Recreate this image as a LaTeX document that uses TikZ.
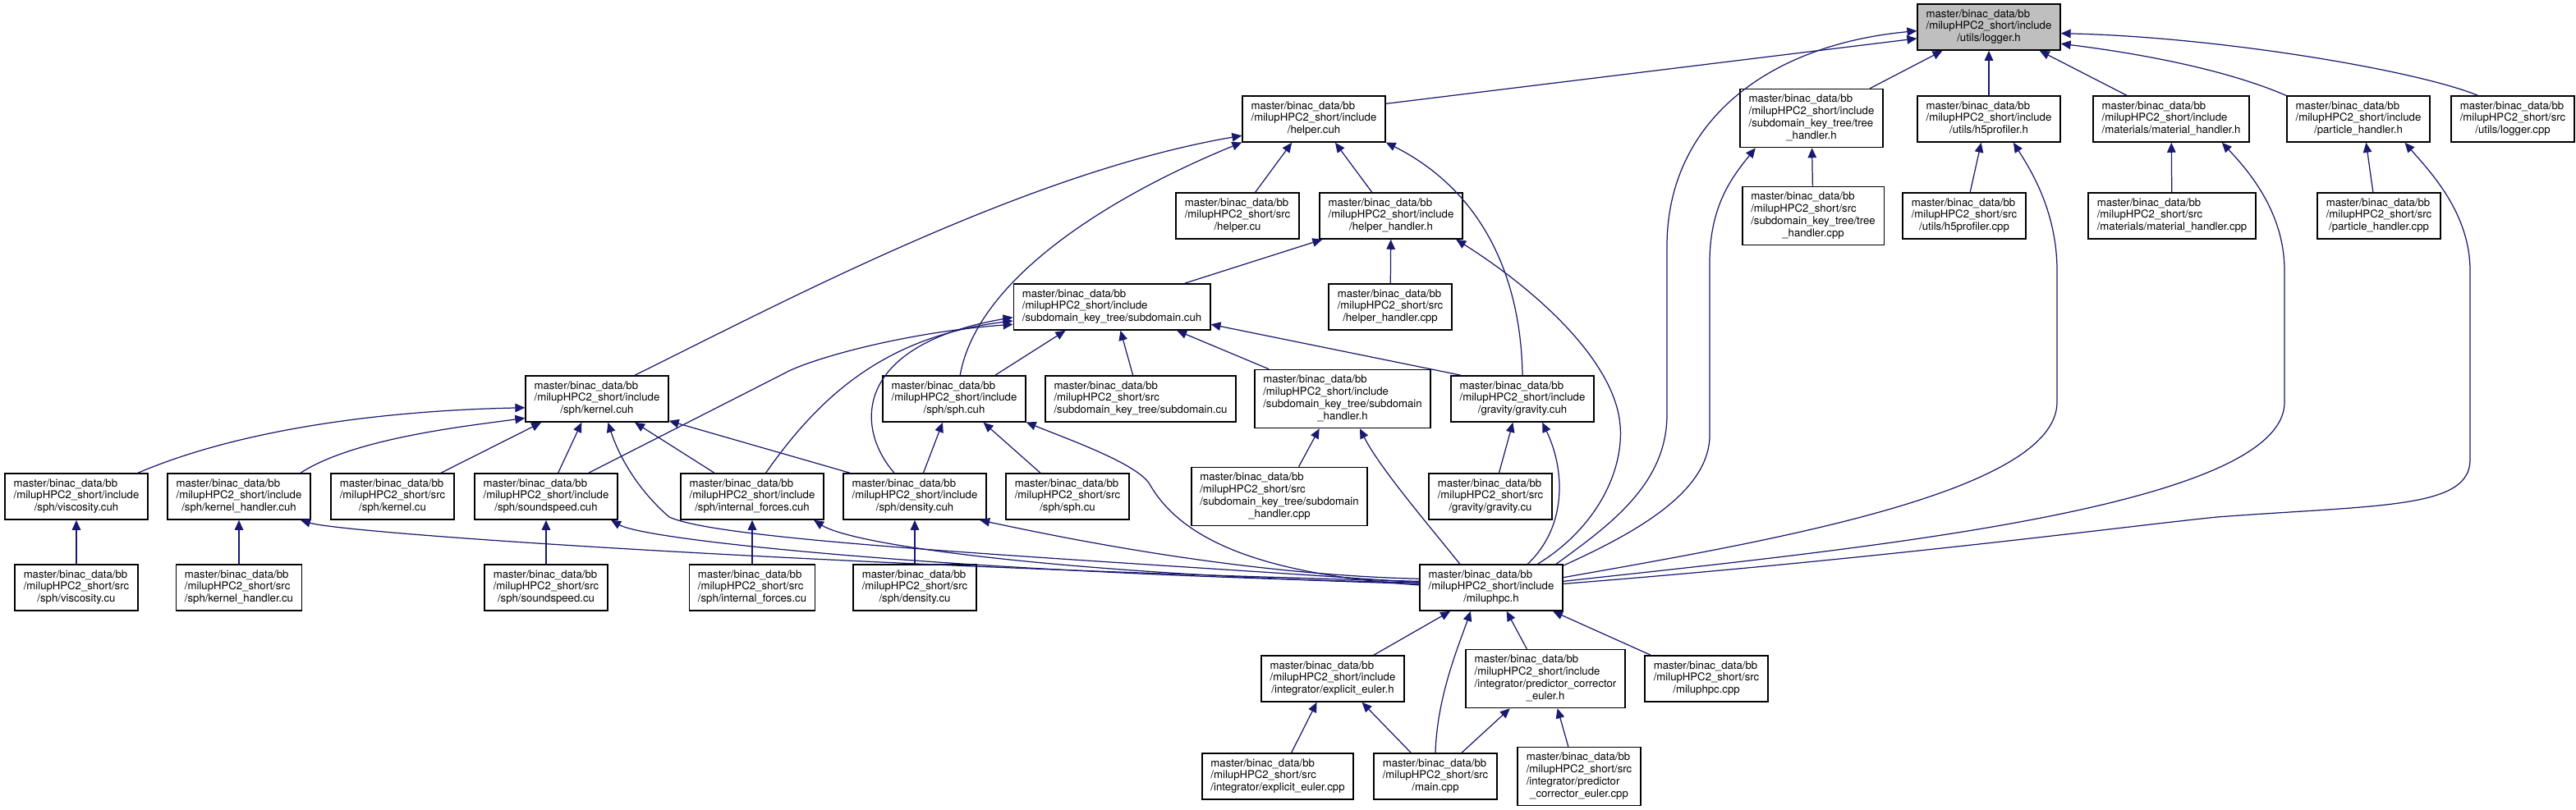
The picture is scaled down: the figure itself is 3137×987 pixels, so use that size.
\documentclass[tikz,border=0pt]{standalone}
\usepackage{fontspec}
\setmainfont{TeX Gyre Heros}
\usetikzlibrary{arrows.meta}

\definecolor{edgeblue}{HTML}{191970}
\newcommand{\incdir}{master/binac\_data/bb\\/milupHPC2\_short/include}
\newcommand{\srcdir}{master/binac\_data/bb\\/milupHPC2\_short/src}
\newcommand{\flabel}[2]{\begin{tabular}{@{}l@{}}#1\\\multicolumn{1}{@{}c@{}}{#2}\end{tabular}}

\begin{document}
\begin{tikzpicture}[
        x=0.02cm, y=-0.02cm,
        file/.style={
            draw=black,
            line width=0.9pt,
            fill=white,
            inner xsep=6pt,
            inner ysep=3.2pt,
            font=\fontsize{7.5}{8.5}\selectfont
        },
        current/.style={file, fill=black!25},
        dep/.style={
            -{Triangle[length=6.8pt,width=6pt]},
            draw=edgeblue,
            line width=0.7pt
        }
    ]
    \useasboundingbox (0,0) rectangle (3137,987);

    % Root header (top)
    \node[current] (logger) at (2422,33) {\flabel{\incdir}{/utils/logger.h}};

    % Second row
    \node[file] (helpercuh) at (1600,145) {\flabel{\incdir}{/helper.cuh}};
    \node[file] (treeh)     at (2206,144) {\flabel{\incdir\\/subdomain\_key\_tree/tree}{\_handler.h}};
    \node[file] (h5h)       at (2422,145) {\flabel{\incdir}{/utils/h5profiler.h}};
    \node[file] (math)      at (2644,145) {\flabel{\incdir}{/materials/material\_handler.h}};
    \node[file] (parth)     at (2872,145) {\flabel{\incdir}{/particle\_handler.h}};
    \node[file] (logcpp)    at (3060,145) {\flabel{\srcdir}{/utils/logger.cpp}};

    % Third row
    \node[file] (helpercu)  at (1507,263) {\flabel{\srcdir}{/helper.cu}};
    \node[file] (hhh)       at (1694,263) {\flabel{\incdir}{/helper\_handler.h}};
    \node[file] (treecpp)   at (2208,263) {\flabel{\srcdir\\/subdomain\_key\_tree/tree}{\_handler.cpp}};
    \node[file] (h5cpp)     at (2392,263) {\flabel{\srcdir}{/utils/h5profiler.cpp}};
    \node[file] (matcpp)    at (2645,263) {\flabel{\srcdir}{/materials/material\_handler.cpp}};
    \node[file] (partcpp)   at (2897,263) {\flabel{\srcdir}{/particle\_handler.cpp}};

    % Fourth row
    \node[file] (subcuh)    at (1354,374) {\flabel{\incdir}{/subdomain\_key\_tree/subdomain.cuh}};
    \node[file] (hhcpp)     at (1693,374) {\flabel{\srcdir}{/helper\_handler.cpp}};

    % Fifth row
    \node[file] (kercuh)    at (727,486)  {\flabel{\incdir}{/sph/kernel.cuh}};
    \node[file] (sphcuh)    at (1162,486) {\flabel{\incdir}{/sph/sph.cuh}};
    \node[file] (subcu)     at (1389,486) {\flabel{\srcdir}{/subdomain\_key\_tree/subdomain.cu}};
    \node[file] (subhh)     at (1635,486) {\flabel{\incdir\\/subdomain\_key\_tree/subdomain}{\_handler.h}};
    \node[file] (gravcuh)   at (1854,486) {\flabel{\incdir}{/gravity/gravity.cuh}};

    % Sixth row
    \node[file] (visccuh)   at (93,605)   {\flabel{\incdir}{/sph/viscosity.cuh}};
    \node[file] (khcuh)     at (291,605)  {\flabel{\incdir}{/sph/kernel\_handler.cuh}};
    \node[file] (kercu)     at (478,605)  {\flabel{\srcdir}{/sph/kernel.cu}};
    \node[file] (sscuh)     at (665,605)  {\flabel{\incdir}{/sph/soundspeed.cuh}};
    \node[file] (ifcuh)     at (916,605)  {\flabel{\incdir}{/sph/internal\_forces.cuh}};
    \node[file] (dencuh)    at (1114,605) {\flabel{\incdir}{/sph/density.cuh}};
    \node[file] (sphcu)     at (1300,605) {\flabel{\srcdir}{/sph/sph.cu}};
    \node[file] (subhcpp)   at (1558,605) {\flabel{\srcdir\\/subdomain\_key\_tree/subdomain}{\_handler.cpp}};
    \node[file] (gravcu)    at (1815,605) {\flabel{\srcdir}{/gravity/gravity.cu}};

    % Seventh row
    \node[file] (visccu)    at (93,716)   {\flabel{\srcdir}{/sph/viscosity.cu}};
    \node[file] (khcu)      at (291,716)  {\flabel{\srcdir}{/sph/kernel\_handler.cu}};
    \node[file] (sscu)      at (665,716)  {\flabel{\srcdir}{/sph/soundspeed.cu}};
    \node[file] (ifcu)      at (916,716)  {\flabel{\srcdir}{/sph/internal\_forces.cu}};
    \node[file] (dencu)     at (1114,716) {\flabel{\srcdir}{/sph/density.cu}};
    \node[file] (mil)       at (1816,716) {\flabel{\incdir}{/miluphpc.h}};

    % Integrators
    \node[file] (eeh)       at (1623,827) {\flabel{\incdir}{/integrator/explicit\_euler.h}};
    \node[file] (pceh)      at (1882,827) {\flabel{\incdir\\/integrator/predictor\_corrector}{\_euler.h}};
    \node[file] (milcpp)    at (2078,827) {\flabel{\srcdir}{/miluphpc.cpp}};
    \node[file] (eecpp)     at (1556,946) {\flabel{\srcdir}{/integrator/explicit\_euler.cpp}};
    \node[file] (maincpp)   at (1748,946) {\flabel{\srcdir}{/main.cpp}};
    \node[file] (pcecpp)    at (1923,946) {\flabel{\srcdir\\/integrator/predictor}{\_corrector\_euler.cpp}};

    % Includes of logger.h
    \draw[dep] (helpercuh.12) -- (logger.189);
    \draw[dep] (treeh.27) -- (logger.-153);
    \draw[dep] (h5h.north) -- (logger.south);
    \draw[dep] (math.152) -- (logger.-25);
    \draw[dep] (parth.162) .. controls (2700,80) and (2580,62) .. (logger.-13);
    \draw[dep] (logcpp.146) .. controls (2940,85) and (2700,45) .. (logger.-5);
    \draw[dep] (mil.20) .. controls (1960,640) and (2030,590) .. (2030,505) -- (2030,300) .. controls (2030,150) and (2150,55) .. (logger.183);

    % Includes of helper.cuh
    \draw[dep] (kercuh.32) .. controls (950,370) and (1250,210) .. (helpercuh.193);
    \draw[dep] (sphcuh.76) .. controls (1190,340) and (1350,240) .. (helpercuh.-162);
    \draw[dep] (helpercu.53) -- (helpercuh.-133);
    \draw[dep] (hhh.129) -- (helpercuh.-48);
    \draw[dep] (gravcuh.north) .. controls (1852,330) and (1800,230) .. (helpercuh.-18);

    % Includes of helper_handler.h
    \draw[dep] (subcuh.18) -- (hhh.-161);
    \draw[dep] (hhcpp) -- (hhh);
    \draw[dep] (mil.27) .. controls (1950,640) and (1985,560) .. (1970,500) .. controls (1950,420) and (1850,340) .. (hhh.-20);

    % Includes of the tree handler
    \draw[dep] (treecpp) -- (treeh);
    \draw[dep] (mil.17) .. controls (1990,650) and (2082,600) .. (2082,530) -- (2082,320) .. controls (2082,250) and (2110,215) .. (treeh.-152);

    % Includes of h5profiler.h, material_handler.h, particle_handler.h
    \draw[dep] (h5cpp.76) -- (h5h.-108);
    \draw[dep] (mil.8) .. controls (2150,660) and (2505,600) .. (2505,490) -- (2505,330) .. controls (2505,260) and (2475,210) .. (h5h.-44);
    \draw[dep] (matcpp) -- (math);
    \draw[dep] (mil.5) .. controls (2250,670) and (2782,620) .. (2782,490) -- (2782,330) .. controls (2782,260) and (2740,210) .. (math.-25);
    \draw[dep] (partcpp.104) -- (parth.-72);
    \draw[dep] (mil.3) .. controls (2300,680) and (2600,640) .. (2700,630) .. controls (2900,615) and (3008,620) .. (3008,560) -- (3008,330) .. controls (3008,260) and (2960,210) .. (parth.-27);

    % Includes of subdomain.cuh
    \draw[dep] (sphcuh.30) -- (subcuh.-153);
    \draw[dep] (subcu.108) -- (subcuh.-70);
    \draw[dep] (subhh.158) -- (subcuh.-20);
    \draw[dep] (gravcuh.159) -- (subcuh.-10);
    \draw[dep] (sscuh.29) -- (955,455) .. controls (985,438) and (1100,405) .. (subcuh.190);
    \draw[dep] (ifcuh.60) .. controls (1000,480) and (1080,410) .. (subcuh.188);
    \draw[dep] (dencuh.131) .. controls (1040,520) and (1040,420) .. (subcuh.186);

    % Includes of kernel.cuh
    \draw[dep] (visccuh.21) .. controls (300,520) and (480,500) .. (kercuh.187);
    \draw[dep] (khcuh.21) .. controls (430,535) and (560,520) .. (kercuh.195);
    \draw[dep] (kercu.26) -- (kercuh.203);
    \draw[dep] (sscuh.63) -- (kercuh.-123);
    \draw[dep] (ifcuh.148) -- (kercuh.-32);
    \draw[dep] (dencuh.160) -- (kercuh.-17);
    \draw[dep] (mil.176) .. controls (1300,680) and (880,660) .. (815,630) .. controls (780,600) and (755,560) .. (kercuh.-65);

    % Includes of sph.cuh
    \draw[dep] (dencuh.70) -- (sphcuh.-116);
    \draw[dep] (sphcu.139) -- (sphcuh.-39);
    \draw[dep] (mil.178) .. controls (1540,700) and (1440,660) .. (1400,590) .. controls (1385,565) and (1300,535) .. (sphcuh.-18);

    % Includes of subdomain_handler.h and gravity.cuh
    \draw[dep] (subhcpp.57) -- (subhh.-128);
    \draw[dep] (mil.143) .. controls (1740,640) and (1680,570) .. (subhh.-60);
    \draw[dep] (gravcu.70) -- (gravcuh.-112);
    \draw[dep] (mil.33) .. controls (1910,640) and (1905,570) .. (gravcuh.-50);

    % sph headers and their sources
    \draw[dep] (visccu) -- (visccuh);
    \draw[dep] (khcu) -- (khcuh);
    \draw[dep] (mil.175) .. controls (1000,690) and (420,650) .. (khcuh.-21);
    \draw[dep] (sscu) -- (sscuh);
    \draw[dep] (mil.176) .. controls (1200,700) and (790,660) .. (sscuh.-20);
    \draw[dep] (ifcu) -- (ifcuh);
    \draw[dep] (mil.177) .. controls (1300,700) and (1040,665) .. (ifcuh.-21);
    \draw[dep] (dencu) -- (dencuh);
    \draw[dep] (mil.173) .. controls (1500,700) and (1270,650) .. (dencuh.-20);

    % Includes of miluphpc.h
    \draw[dep] (eeh.30) -- (mil.-150);
    \draw[dep] (maincpp.north) .. controls (1750,850) and (1775,790) .. (mil.-131);
    \draw[dep] (pceh.122) -- (mil.-57);
    \draw[dep] (milcpp.157) -- (mil.-21);

    % Integrator headers
    \draw[dep] (eecpp.60) -- (eeh.-124);
    \draw[dep] (maincpp.136) -- (eeh.-39);
    \draw[dep] (maincpp.42) -- (pceh.-140);
    \draw[dep] (pcecpp.110) -- (pceh.-68);

    \end{tikzpicture}
\end{document}
